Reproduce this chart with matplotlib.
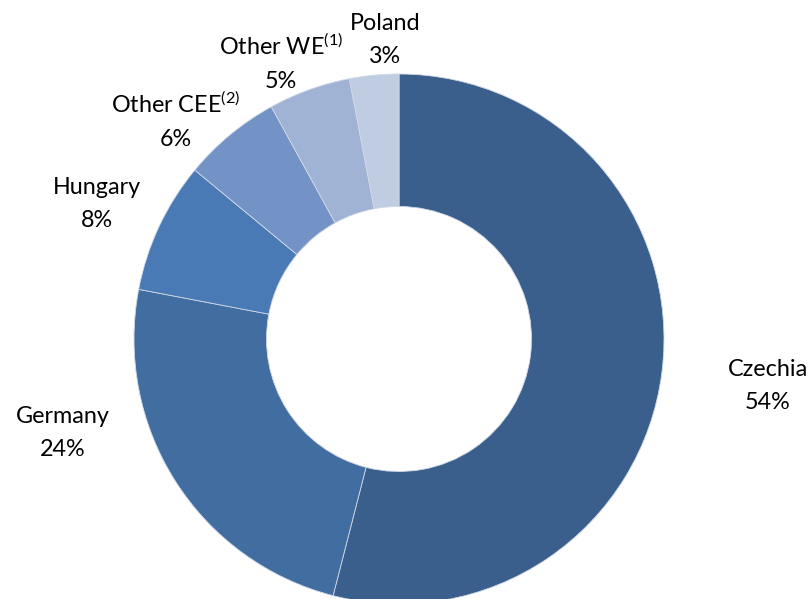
import matplotlib.pyplot as plt

plt.rcParams['font.family'] = ['Lato', 'DejaVu Sans']
plt.rcParams['mathtext.fontset'] = 'custom'
plt.rcParams['mathtext.rm'] = 'Lato'

countries = ['Czechia', 'Germany', 'Hungary', 'Other CEE$^{\\mathregular{(2)}}$',
             'Other WE$^{\\mathregular{(1)}}$', 'Poland']
shares = [54, 24, 8, 6, 5, 3]
colors = ['#3a5f8c', '#416da0', '#4a7ab5', '#7393c6', '#a0b3d5', '#c0cce2']

# label centres, in pie-radius units
label_pos = [(1.392, -0.177), (-1.268, -0.355), (-1.140, 0.509),
             (-0.842, 0.826), (-0.445, 1.045), (-0.053, 1.128)]

fig = plt.figure(figsize=(8.12, 5.99), dpi=100)
ax = fig.add_axes([0, 0, 1, 1])
ax.pie(shares, colors=colors, startangle=90, counterclock=False, radius=1,
       wedgeprops=dict(width=0.5, edgecolor='#d0d8e6', linewidth=0.6))
ax.set_aspect('equal')
ax.set_xlim(-399 / 265, (812 - 399) / 265)
ax.set_ylim(-260 / 265, 339 / 265)
ax.axis('off')

for name, val, (x, y) in zip(countries, shares, label_pos):
    ax.text(x, y, f'{name}\n{val}%', ha='center', va='center', fontsize=16.8,
            linespacing=1.72, color='black')

fig.savefig('out.png', dpi=100)
